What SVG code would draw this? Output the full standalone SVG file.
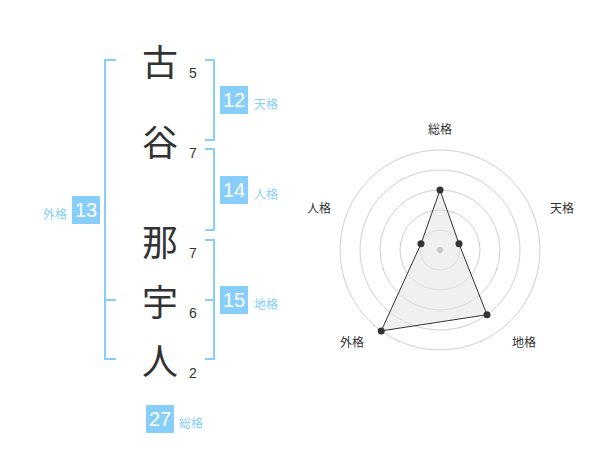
<svg xmlns="http://www.w3.org/2000/svg" width="600" height="470" viewBox="0 0 600 470">
<style>
.ch{font-family:"Noto Sans CJK JP","Noto Sans CJK SC",sans-serif;font-size:36px;fill:#333;text-anchor:middle;dominant-baseline:central}
.num{font-family:"Liberation Sans",Arial,sans-serif;font-size:14px;fill:#333;text-anchor:middle}
.box{fill:#87cefa}
.bnum{font-family:"Liberation Sans",Arial,sans-serif;font-size:20px;fill:#fff;text-anchor:middle}
.lbl{font-family:"Noto Sans CJK JP","Noto Sans CJK SC",sans-serif;font-size:12px;fill:#87cefa}
.br{fill:none;stroke:#87cefa;stroke-width:2}
.ring{fill:none;stroke:#d0d0d0;stroke-width:1}
.rl{font-family:"Noto Sans CJK JP","Noto Sans CJK SC",sans-serif;font-size:12px;fill:#333;text-anchor:middle}
.dot{fill:#333}
</style>
<rect width="600" height="470" fill="#fff"/>
<g id="connectors">
<path class="br" d="M116,60 H105 V359 H116 M105,300 H116"/>
<path class="br" d="M205,60 H214 V140 H205"/>
<path class="br" d="M205,149 H214 V230 H205"/>
<path class="br" d="M205,240 H214 V359 H205 M205,300 H214"/>
</g>
<g id="char-1"><text class="ch" x="160" y="60">古</text><text class="num" x="193" y="78">5</text></g>
<g id="char-2"><text class="ch" x="160" y="140">谷</text><text class="num" x="193" y="158">7</text></g>
<g id="char-3"><text class="ch" x="160" y="240">那</text><text class="num" x="193" y="258">7</text></g>
<g id="char-4"><text class="ch" x="160" y="300">宇</text><text class="num" x="193" y="318">6</text></g>
<g id="char-5"><text class="ch" x="160" y="359">人</text><text class="num" x="193" y="378">2</text></g>
<g id="tenkaku"><rect class="box" x="220" y="86" width="28" height="28"/><text class="bnum" x="234" y="107">12</text><text class="lbl" x="254" y="109">天格</text></g>
<g id="jinkaku"><rect class="box" x="220" y="176" width="28" height="28"/><text class="bnum" x="234" y="197">14</text><text class="lbl" x="254" y="199">人格</text></g>
<g id="chikaku"><rect class="box" x="220" y="286" width="28" height="28"/><text class="bnum" x="234" y="307">15</text><text class="lbl" x="254" y="309">地格</text></g>
<g id="gaikaku"><rect class="box" x="72" y="196" width="28" height="28"/><text class="bnum" x="86" y="217">13</text><text class="lbl" x="67" y="219" text-anchor="end">外格</text></g>
<g id="soukaku"><rect class="box" x="146" y="405" width="28" height="28"/><text class="bnum" x="160" y="426">27</text><text class="lbl" x="179" y="428">総格</text></g>
<g id="radar">
<circle class="ring" cx="440" cy="250" r="20"/>
<circle class="ring" cx="440" cy="250" r="40"/>
<circle class="ring" cx="440" cy="250" r="60"/>
<circle class="ring" cx="440" cy="250" r="80"/>
<circle class="ring" cx="440" cy="250" r="100"/>
<polygon points="440,190 459.02,243.82 487.02,314.72 381.22,330.9 420.98,243.82" fill="#e6e6e6" fill-opacity="0.6" stroke="#333" stroke-width="1"/>
<circle cx="440" cy="250" r="3" fill="#c8c8c8"/>
<circle class="dot" cx="440" cy="190" r="3.5"/>
<circle class="dot" cx="459.02" cy="243.82" r="3.5"/>
<circle class="dot" cx="487.02" cy="314.72" r="3.5"/>
<circle class="dot" cx="381.22" cy="330.9" r="3.5"/>
<circle class="dot" cx="420.98" cy="243.82" r="3.5"/>
<text class="rl" x="440" y="134">総格</text>
<text class="rl" x="562" y="213">天格</text>
<text class="rl" x="319" y="213">人格</text>
<text class="rl" x="352" y="347">外格</text>
<text class="rl" x="524" y="347">地格</text>
</g>
</svg>
